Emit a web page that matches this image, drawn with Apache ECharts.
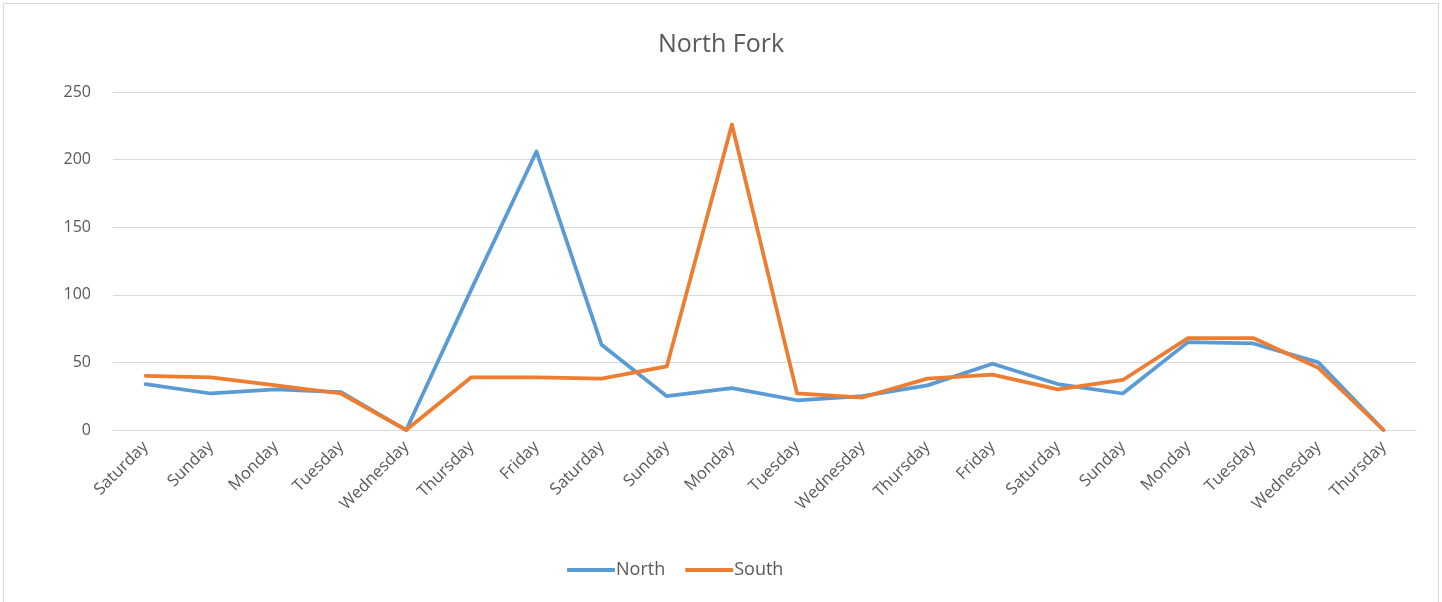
<!DOCTYPE html>
<html>
<head>
<meta charset="utf-8">
<script src="https://cdn.jsdelivr.net/npm/echarts@6/dist/echarts.min.js"></script>
<style>
html,body{margin:0;padding:0;background:#fff;}
#frame{position:absolute;left:3px;top:3px;width:1436px;height:610px;border:1px solid #d9d9d9;box-sizing:border-box;}
#chart{position:absolute;left:0;top:0;width:1442px;height:602px;}
</style>
</head>
<body>
<div id="frame"></div>
<div id="chart"></div>
<script>
const title = 'North Fork';
const categories = ['Saturday','Sunday','Monday','Tuesday','Wednesday','Thursday','Friday','Saturday','Sunday','Monday','Tuesday','Wednesday','Thursday','Friday','Saturday','Sunday','Monday','Tuesday','Wednesday','Thursday'];
const northValues = [34, 27, 30, 28, 0, 104, 206, 63, 25, 31, 22, 25, 33, 49, 34, 27, 65, 64, 50, 0];
const southValues = [40, 39, 33, 27, 0, 39, 39, 38, 47, 226, 27, 24, 38, 41, 30, 37, 68, 68, 46, 0];
const yTicks = {min: 0, max: 250, interval: 50};

const font = '"Open Sans", "Noto Sans", sans-serif';
const chart = echarts.init(document.getElementById('chart'), null, {renderer: 'canvas'});
chart.setOption({
  animation: false,
  backgroundColor: 'transparent',
  title: {
    text: title, left: 'center', top: 27,
    textStyle: {fontFamily: font, fontSize: 25, fontWeight: 'normal', color: '#595959'}
  },
  grid: {left: 113, right: 26, top: 92, bottom: 172, containLabel: false},
  legend: {
    top: 556, left: 562, itemWidth: 48, itemHeight: 4, itemGap: 20,
    icon: 'roundRect',
    textStyle: {fontFamily: font, fontSize: 18, color: '#595959', padding: [0,0,0,-4]},
    data: ['North', 'South']
  },
  xAxis: {
    type: 'category', data: categories, boundaryGap: true,
    axisLine: {show: true, lineStyle: {color: '#d9d9d9'}},
    axisTick: {show: false},
    axisLabel: {rotate: 45, fontFamily: font, fontSize: 16.5, color: '#595959', margin: 14, interval: 0}
  },
  yAxis: {
    type: 'value', min: yTicks.min, max: yTicks.max, interval: yTicks.interval,
    axisLine: {show: false}, axisTick: {show: false},
    axisLabel: {fontFamily: font, fontSize: 16, color: '#595959', margin: 22},
    splitLine: {lineStyle: {color: '#d9d9d9', width: 1}}
  },
  series: [
    {name: 'North', type: 'line', data: northValues, symbol: 'none', smooth: false,
     lineStyle: {color: '#5B9BD5', width: 3.75, cap: 'round', join: 'round'}, itemStyle: {color: '#5B9BD5'}},
    {name: 'South', type: 'line', data: southValues, symbol: 'none', smooth: false,
     lineStyle: {color: '#ED7D31', width: 3.75, cap: 'round', join: 'round'}, itemStyle: {color: '#ED7D31'}}
  ]
});
</script>
</body>
</html>
